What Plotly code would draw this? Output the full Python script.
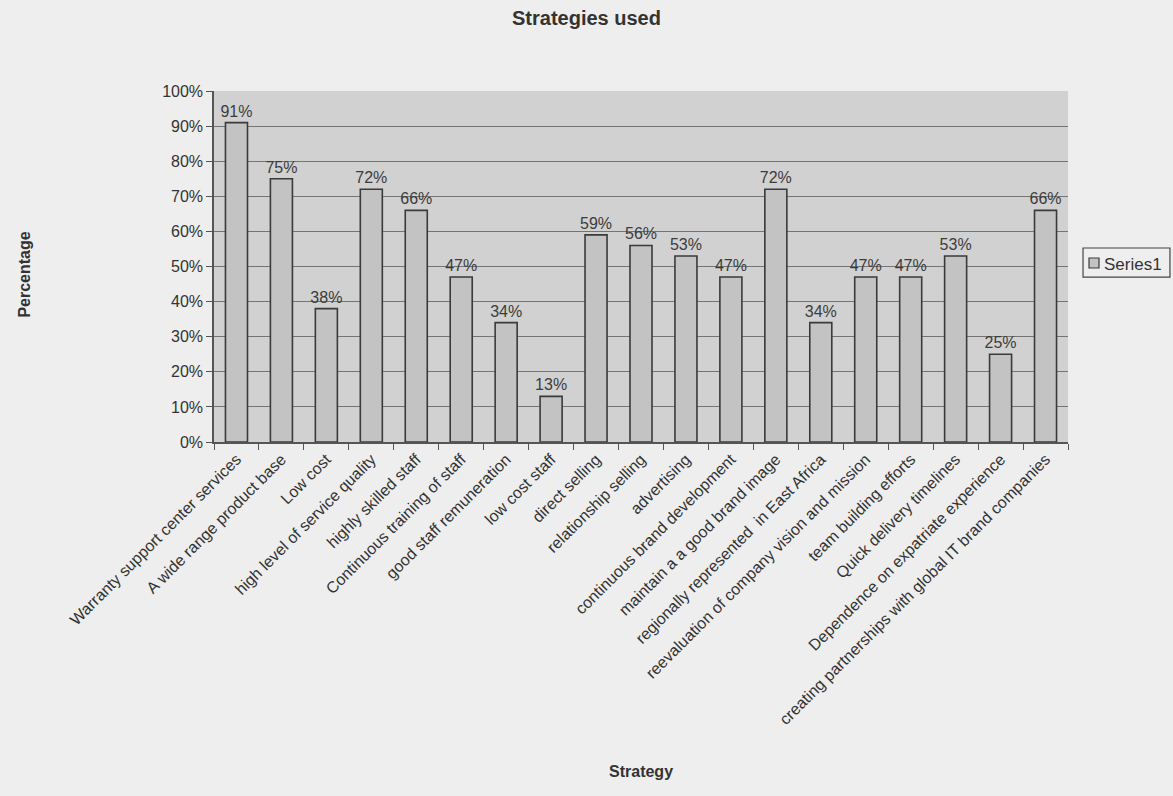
import plotly.graph_objects as go

strategies = [
    "Warranty support center services",
    "A wide range product base",
    "Low cost",
    "high level of service quality",
    "highly skilled staff",
    "Continuous training of staff",
    "good staff remuneration",
    "low cost staff",
    "direct selling",
    "relationship selling",
    "advertising",
    "continuous brand development",
    "maintain a a good brand image",
    "regionally represented  in East Africa",
    "reevaluation of company vision and mission",
    "team building efforts",
    "Quick delivery timelines",
    "Dependence on expatriate experience",
    "creating partnerships with global IT brand companies",
]
values = [0.91, 0.75, 0.38, 0.72, 0.66, 0.47, 0.34, 0.13, 0.59, 0.56, 0.53,
          0.47, 0.72, 0.34, 0.47, 0.47, 0.53, 0.25, 0.66]
y_ticks = [0, 0.1, 0.2, 0.3, 0.4, 0.5, 0.6, 0.7, 0.8, 0.9, 1.0]
y_tick_labels = ["0%", "10%", "20%", "30%", "40%", "50%", "60%", "70%", "80%", "90%", "100%"]
series_name = "Series1"

FONT = "Liberation Sans, Arial, sans-serif"
PAGE_BG = "#eeeeee"
PLOT_BG = "#d1d1d1"
BAR = "#c3c3c3"
EDGE = "#3a3a3a"

fig = go.Figure()
fig.add_trace(go.Bar(
    x=strategies,
    y=values,
    name=series_name,
    marker=dict(color=BAR, line=dict(color=EDGE, width=1.6)),
    texttemplate="%{y:.0%}",
    textposition="outside",
    textangle=0,
    constraintext="none",
    textfont=dict(family=FONT, size=16, color="#3c3c3c"),
    cliponaxis=False,
    showlegend=False,
))

# Legend drawn as a small bordered box on the right (Excel style)
legend_shapes = [
    dict(type="rect", xref="paper", yref="paper",
         x0=1.0176, x1=1.1194, y0=0.470, y1=0.5527,
         line=dict(color="#444", width=1.2), fillcolor=PAGE_BG),
    dict(type="rect", xref="paper", yref="paper",
         x0=1.0246, x1=1.0363, y0=0.4957, y1=0.5242,
         line=dict(color=EDGE, width=1.2), fillcolor=BAR),
]

fig.update_layout(
    width=1173,
    height=796,
    paper_bgcolor=PAGE_BG,
    plot_bgcolor=PLOT_BG,
    margin=dict(l=214, r=105, t=91, b=354),
    bargap=0.51,
    font=dict(family=FONT, color="#2a2a2a"),
    title=dict(text="<b>Strategies used</b>", x=0.5, xanchor="center",
               y=0.977, yanchor="middle",
               font=dict(family=FONT, size=20, color="#333")),
    xaxis=dict(
        tickangle=-45,
        tickfont=dict(family=FONT, size=16, color="#333"),
        showline=True, linecolor="#555", linewidth=1.5,
        ticks="outside", ticklen=6, tickcolor="#555", tickson="boundaries",
        automargin=False,
    ),
    yaxis=dict(
        range=[0, 1.0],
        tickvals=y_ticks,
        ticktext=y_tick_labels,
        tickfont=dict(family=FONT, size=16, color="#333"),
        showgrid=True, gridcolor="#747474", gridwidth=1,
        showline=True, linecolor="#555", linewidth=1.5,
        ticks="outside", ticklen=6, tickcolor="#555",
        zeroline=False,
        automargin=False,
    ),
    shapes=legend_shapes,
    annotations=[
        dict(text="<b>Percentage</b>", xref="paper", yref="paper",
             x=-0.234, y=0.476, textangle=-90, showarrow=False,
             font=dict(family=FONT, size=16, color="#333")),
        dict(text="<b>Strategy</b>", xref="paper", yref="paper",
             x=0.5, y=-0.969, showarrow=False,
             font=dict(family=FONT, size=16, color="#333")),
        dict(text=series_name, xref="paper", yref="paper",
             x=1.0398, y=0.507, xanchor="left", yanchor="middle", showarrow=False,
             font=dict(family=FONT, size=17, color="#333")),
    ],
)

fig.write_html("out.html", config={"displayModeBar": False})
